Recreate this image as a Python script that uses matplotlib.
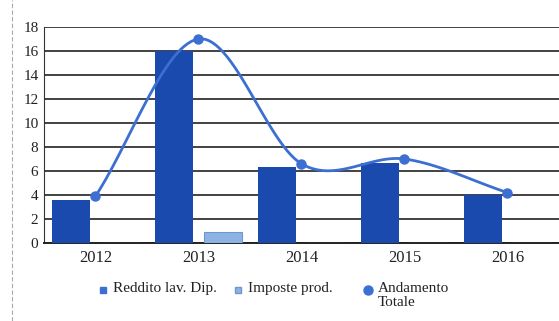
import numpy as np
import matplotlib
matplotlib.use("Agg")
import matplotlib.pyplot as plt
from matplotlib.lines import Line2D

years = ["2012", "2013", "2014", "2015", "2016"]
reddito = [3.6, 16.0, 6.3, 6.7, 4.0]
imposte = [0.0, 0.9, 0.0, 0.0, 0.0]
andamento = [3.9, 17.0, 6.6, 7.0, 4.2]
yticks = [0, 2, 4, 6, 8, 10, 12, 14, 16, 18]
legend_labels = ["Reddito lav. Dip.", "Imposte prod.", "Andamento\nTotale"]

plt.rcParams['font.family'] = ['Liberation Serif', 'DejaVu Serif']

W, H = 559, 321
fig = plt.figure(figsize=(W / 100, H / 100), dpi=100)
ax = fig.add_axes([0.0787, 0.243, 0.9213, 0.673])

x = np.arange(len(years))
w = 0.37
dark = '#1a4aad'
light = '#8db3e2'
linec = '#3c6fd1'

ax.bar(x - 0.235, reddito, w, color=dark, zorder=3)
ax.bar(x + 0.235, imposte, w, color=light, edgecolor='#6f97cf', linewidth=0.8, zorder=3)

# smooth curve (Catmull-Rom) through the data points
def catmull(xs, ys, n=30):
    xs = np.asarray(xs, float); ys = np.asarray(ys, float)
    px = np.concatenate([[2*xs[0]-xs[1]], xs, [2*xs[-1]-xs[-2]]])
    py = np.concatenate([[2*ys[0]-ys[1]], ys, [2*ys[-1]-ys[-2]]])
    ox, oy = [], []
    for i in range(1, len(px)-2):
        t = np.linspace(0, 1, n)
        for arr, out in ((px, ox), (py, oy)):
            p0, p1, p2, p3 = arr[i-1], arr[i], arr[i+1], arr[i+2]
            out.extend(0.5*((2*p1) + (-p0+p2)*t + (2*p0-5*p1+4*p2-p3)*t**2 + (-p0+3*p1-3*p2+p3)*t**3))
    return np.array(ox), np.array(oy)

cx, cy = catmull(x, andamento)
ax.plot(cx, cy, color=linec, lw=2.0, zorder=4, solid_capstyle='round')
ax.plot(x, andamento, 'o', color=linec, ms=6.5, zorder=5)

ax.set_xlim(-0.5, len(years) - 0.5)
ax.set_ylim(0, 18)
ax.set_yticks(yticks)
ax.set_yticklabels([str(v) for v in yticks], fontsize=11)
ax.set_xticks(x)
ax.set_xticklabels(years, fontsize=12)
ax.tick_params(axis='both', length=0, pad=4, colors='#222222')
ax.tick_params(axis='x', pad=5)
ax.grid(axis='y', color='#222222', lw=1.2, zorder=0)
for s in ['top', 'right']:
    ax.spines[s].set_visible(False)
ax.spines['left'].set_color('#333333')
ax.spines['bottom'].set_color('#222222')
ax.spines['bottom'].set_linewidth(1.4)

# legend placed manually (entries aligned on first text line)
ly = 1 - 290 / H
entries = [
    (103, 's', linec, None),
    (238, 's', light, '#6f97cf'),
    (368, 'o', linec, None),
]
for (px_, mk, col, ec), lab in zip(entries, legend_labels):
    fig.add_artist(Line2D([px_ / W], [ly], marker=mk, ls='none', color=col,
                          markeredgecolor=ec if ec else col, ms=5 if mk == 's' else 6.5))
    fig.text((px_ + 10) / W, ly + 8 / H, lab, fontsize=11, va='top', ha='left',
             color='#222222', linespacing=1.05)

fig.add_artist(Line2D([0.022, 0.022], [0.0, 1.0], color='#aaaaaa', lw=0.8, ls=(0, (4, 2))))

fig.savefig('out.png', dpi=100)
